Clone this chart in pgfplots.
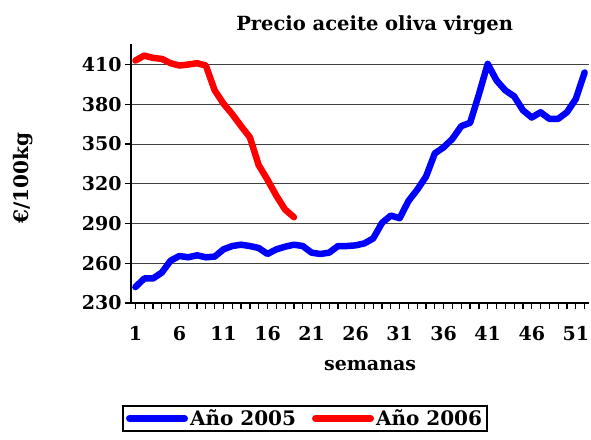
\documentclass[border=0pt]{standalone}
\usepackage{pgfplots}
\pgfplotsset{compat=1.18}
\usepackage{fontspec}
\setmainfont{DejaVu Serif}
\begin{document}
\begin{tikzpicture}
\path[use as bounding box] (-131bp,-137bp) rectangle (460bp,303bp);
\begin{axis}[
 at={(0,0)}, anchor=south west,
 scale only axis, width=458bp, height=259bp,
 xmin=0.5, xmax=52.5, ymin=230, ymax=425.5,
 axis x line*=bottom, axis y line*=left,
 axis line style={line width=1.5bp, -},
 xtick={1,6,...,51}, minor xtick={1,...,52},
 ytick={230,260,...,410},
 tick align=outside,
 major tick length=6bp, minor tick length=6bp,
 tick style={black, line width=1.2bp},
 ymajorgrids, grid style={black!75, line width=0.9bp},
 /pgf/number format/assume math mode=true,
 ticklabel style={font=\fontsize{19bp}{22bp}\selectfont\bfseries},
 xticklabel style={yshift=-14bp},
 title={Precio aceite oliva virgen},
 title style={at={(rel axis cs:0.532,1.05)}, anchor=center, font=\fontsize{19.5bp}{22bp}\selectfont\bfseries},
 xlabel={semanas},
 xlabel style={at={(rel axis cs:0.522,-0.243)}, anchor=center, font=\fontsize{19bp}{22bp}\selectfont\bfseries},
 ylabel={€/100kg},
 ylabel style={at={(rel axis cs:-0.235,0.482)}, anchor=center, font=\fontsize{20bp}{22bp}\selectfont\bfseries},
 legend columns=2,
 legend style={at={(rel axis cs:0.38,-0.394)}, anchor=north, draw=black, line width=1.5bp,
   font=\fontsize{20bp}{23bp}\selectfont\bfseries, inner xsep=3bp,
   /tikz/every even column/.append style={column sep=14bp}},
 legend image code/.code={\draw[#1, line width=7bp, line cap=round] (0bp,0bp) -- (55bp,0bp);},
]
\addplot[blue, line width=6.5bp, line join=round, line cap=round] coordinates {
(1,242) (2,248.5) (3,248.5) (4,253) (5,262) (6,265.5) (7,264.5) (8,266) (9,264.5) (10,265)
(11,270.5) (12,273) (13,274) (14,273) (15,271.5) (16,267) (17,270.5) (18,272.5) (19,274) (20,273)
(21,268) (22,267) (23,268) (24,273) (25,273) (26,273.5) (27,275) (28,278.75) (29,290.5) (30,296)
(31,294) (32,307) (33,315.5) (34,325.5) (35,343) (36,347.5) (37,354) (38,363.5) (39,366) (40,387.5)
(41,410.5) (42,398) (43,390.5) (44,386) (45,375.5) (46,370) (47,374) (48,369) (49,369) (50,374)
(51,384) (52,404)
};
\addlegendentry{Año 2005}
\addplot[red, line width=6.5bp, line join=round, line cap=round] coordinates {
(1,413) (2,416.75) (3,415) (4,414.25) (5,411) (6,409.25) (7,410) (8,411) (9,409.25) (10,390.5)
(11,380.5) (12,372.5) (13,363.5) (14,355) (15,334) (16,323) (17,311) (18,300.5) (19,294.75)
};
\addlegendentry{Año 2006}
\end{axis}
\end{tikzpicture}
\end{document}
